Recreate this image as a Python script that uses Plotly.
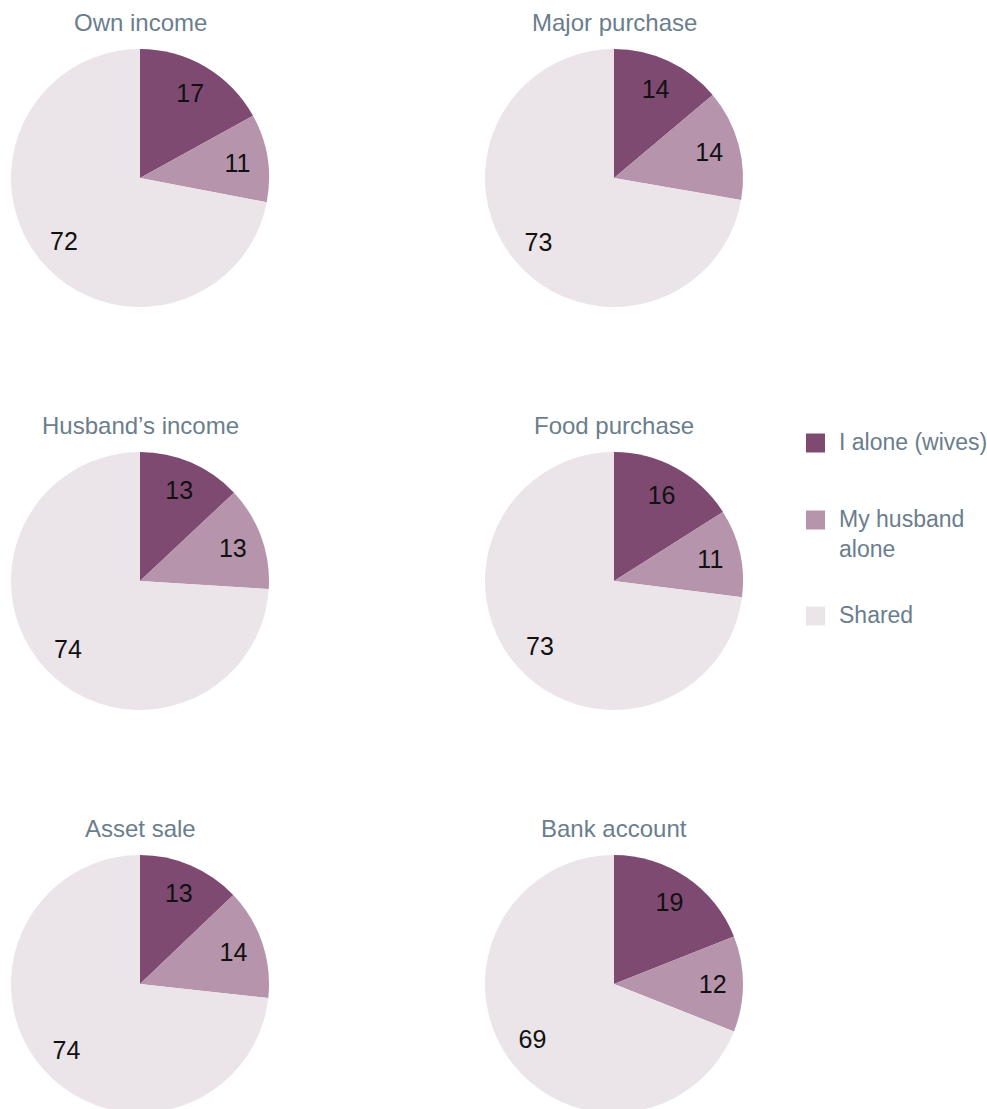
import plotly.graph_objects as go

W, H = 987, 1113

labels = ["I alone (wives)", "My husband alone", "Shared"]
legend_labels = ["I alone (wives)", "My husband<br>alone", "Shared"]
colors = ["#7E4A72", "#B594AC", "#EBE4E9"]

titles = ["Own income", "Major purchase", "Husband\u2019s income",
          "Food purchase", "Asset sale", "Bank account"]
own_income = [17, 11, 72]
major_purchase = [14, 14, 73]
husbands_income = [13, 13, 74]
food_purchase = [16, 11, 73]
asset_sale = [13, 14, 74]
bank_account = [19, 12, 69]
series = [own_income, major_purchase, husbands_income,
          food_purchase, asset_sale, bank_account]

FONT = "Liberation Sans, Arial, sans-serif"
TITLE_COLOR = "#6A7E8C"

# layout (pixels)
col_cx = [140, 614]
row_cy = [178, 581, 984]
R = 129

fig = go.Figure()
annotations = []
for i, (t, vals) in enumerate(zip(titles, series)):
    r, c = divmod(i, 2)
    cx, cy = col_cx[c], row_cy[r]
    dom = dict(x=[(cx - R) / W, (cx + R) / W],
               y=[(H - (cy + R)) / H, (H - (cy - R)) / H])
    # filled pie
    fig.add_trace(go.Pie(
        labels=labels, values=vals, sort=False, direction="clockwise",
        rotation=0, marker=dict(colors=colors, line=dict(width=0)),
        textinfo="none", domain=dom, showlegend=False,
        hoverinfo="label+value",
    ))
    # transparent ring carrying value labels (places them toward the rim)
    fig.add_trace(go.Pie(
        labels=labels, values=vals, sort=False, direction="clockwise",
        rotation=0, hole=0.53,
        marker=dict(colors=["rgba(0,0,0,0)"] * 3, line=dict(width=0)),
        textinfo="value", textposition="inside",
        insidetextorientation="horizontal",
        textfont=dict(family=FONT, size=25, color="#111111"),
        domain=dom, showlegend=False, hoverinfo="skip",
    ))
    annotations.append(dict(
        text=t, x=cx / W, y=1 - (cy - R - 27) / H, xref="paper", yref="paper",
        xanchor="center", yanchor="middle", showarrow=False,
        font=dict(family=FONT, size=24, color=TITLE_COLOR)))

# legend built from labels/colors
leg_x = 806
leg_y = [443, 520, 616]
shapes = []
for lab, col, ly in zip(legend_labels, colors, leg_y):
    shapes.append(dict(type="rect", xref="paper", yref="paper",
                       x0=leg_x / W, x1=(leg_x + 19) / W,
                       y0=1 - (ly + 9.5) / H, y1=1 - (ly - 9.5) / H,
                       fillcolor=col, line=dict(width=0)))
    annotations.append(dict(
        text=lab, x=(leg_x + 31) / W, y=1 - (ly - 16) / H,
        xref="paper", yref="paper", xanchor="left", yanchor="top",
        align="left", showarrow=False,
        font=dict(family=FONT, size=23, color=TITLE_COLOR)))

fig.update_layout(
    width=W, height=H, margin=dict(l=0, r=0, t=0, b=0),
    paper_bgcolor="white", plot_bgcolor="white",
    annotations=annotations, shapes=shapes, showlegend=False,
)
fig.write_html(
    "out.html",
    config={"displayModeBar": False},
    post_script="document.body.style.margin='0';"
                "document.body.style.overflow='hidden';"
                "document.documentElement.style.overflow='hidden';",
)
